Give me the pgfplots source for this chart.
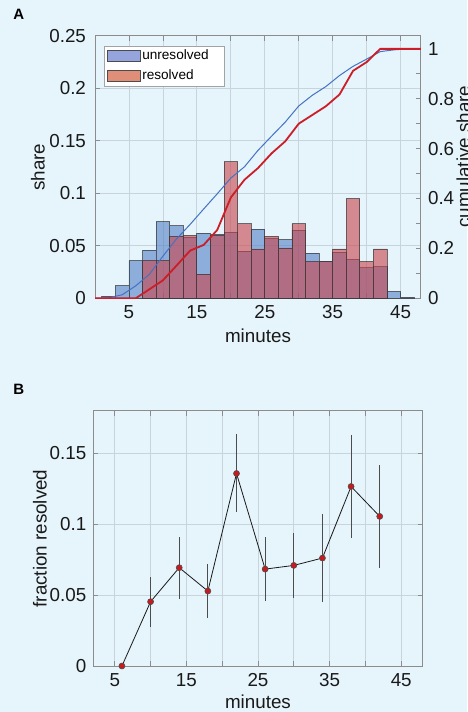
\documentclass[border=0pt]{standalone}
\usepackage{pgfplots}
\pgfplotsset{compat=1.18}
\usepackage{fontspec}
\setmainfont{Liberation Sans}

\definecolor{bg}{RGB}{230,244,251}
\definecolor{barblue}{RGB}{82,127,198}
\definecolor{barred}{RGB}{200,67,74}
\definecolor{legblue}{RGB}{149,164,220}
\definecolor{legred}{RGB}{223,142,120}
\definecolor{lineblue}{RGB}{68,114,196}
\definecolor{linered}{RGB}{204,30,40}
\definecolor{gridc}{RGB}{200,212,220}
\definecolor{framec}{RGB}{140,140,140}
\definecolor{dotred}{RGB}{200,25,30}

\pgfplotsset{
  matlab/.style={
    scale only axis,
    anchor=south west,
    axis line style={framec, line width=0.5pt},
    major tick style={framec, line width=0.4pt},
    minor tick style={framec, line width=0.4pt},
    major tick length=2.5pt,
    minor tick length=2.5pt,
    tick align=inside,
    grid=both,
    major grid style={gridc, line width=0.4pt},
    minor grid style={gridc, line width=0.4pt},
    tick label style={font=\fontsize{9.4}{10}\selectfont, text=black!90},
    label style={font=\fontsize{9.4}{10}\selectfont, text=black!90},
    /pgf/number format/assume math mode=true,
  },
}

\begin{document}
\begin{tikzpicture}
\path[use as bounding box, fill=bg] (0,0) rectangle (233.5pt,356pt);
\node[anchor=base west, inner sep=0pt, font=\bfseries\fontsize{7.5}{8}\selectfont] at (6.5pt,346pt) {A};
\node[anchor=base west, inner sep=0pt, font=\bfseries\fontsize{7.5}{8}\selectfont] at (6.5pt,158.5pt) {B};

% ---- panel A, left axis: histograms
\begin{axis}[matlab,
  at={(47.5pt,206.85pt)}, width=163pt, height=131.2pt,
  xmin=0, xmax=48, ymin=0, ymax=0.25,
  xtick={5,15,25,35,45}, minor xtick={10,20,30,40},
  ytick={0,0.05,0.1,0.15,0.2,0.25},
  yticklabels={0,0.05,0.1,0.15,0.2,0.25},
  ytick pos=left,
  yticklabel style={xshift=-1pt},
  xlabel={minutes}, ylabel={share},
  xlabel style={at={(axis description cs:0.5,-0.144)}, anchor=center},
  ylabel style={at={(axis description cs:-0.175,0.5)}, anchor=center},
  legend cell align=left,
  legend style={at={(0.029,0.963)}, anchor=north west, draw=framec!80,
    fill=white, font=\fontsize{6.8}{7.5}\selectfont, inner sep=1.2pt,
    row sep=2.4pt, nodes={inner sep=0.6pt}},
  legend image code/.code={\draw[#1] (0pt,-2.9pt) rectangle (16.5pt,2.9pt);},
]
\addplot[ybar interval, forget plot, fill=barblue, fill opacity=0.6,
  draw=black!80, draw opacity=0.7, line width=0.4pt] coordinates {
  (1,0.002) (3,0.012) (5,0.036) (7,0.046) (9,0.073) (11,0.069) (13,0.058)
  (15,0.062) (17,0.061) (19,0.063) (21,0.045) (23,0.066) (25,0.057)
  (27,0.056) (29,0.065) (31,0.043) (33,0.035) (35,0.044) (37,0.037)
  (39,0.029) (41,0.030) (43,0.0067) (45,0.001) (47,0)
};
\addplot[ybar interval, forget plot, fill=barred, fill opacity=0.6,
  draw=black!80, draw opacity=0.7, line width=0.4pt] coordinates {
  (7,0.036) (9,0.036) (11,0.059) (13,0.060) (15,0.023) (17,0.060)
  (19,0.130) (21,0.071) (23,0.047) (25,0.059) (27,0.048) (29,0.071)
  (31,0.035) (33,0.035) (35,0.047) (37,0.095) (39,0.035) (41,0.047) (43,0)
};
\addlegendimage{fill=legblue, draw=black!70, line width=0.4pt}
\addlegendentry{unresolved\hspace*{6pt}\mbox{}}
\addlegendimage{fill=legred, draw=black!70, line width=0.4pt}
\addlegendentry{resolved}
\end{axis}

% ---- panel A, right axis: cumulative shares
\begin{axis}[matlab,
  at={(47.5pt,206.85pt)}, width=163pt, height=131.2pt,
  xmin=0, xmax=48, ymin=0, ymax=1.052,
  axis x line=none, axis y line*=right, grid=none,
  ytick={0,0.2,0.4,0.6,0.8,1}, yticklabels={0,0.2,0.4,0.6,0.8,1},
  minor ytick={0.1,0.3,0.5,0.7,0.9},
  ylabel={cumulative share},
  ylabel style={at={(axis description cs:1.13,0.54)}, anchor=center},
]
\addplot[lineblue, line width=0.5pt] coordinates {
  (0,0) (2,0.002) (4,0.014) (6,0.05) (8,0.096) (10,0.169) (12,0.238)
  (14,0.296) (16,0.358) (18,0.419) (20,0.482) (22,0.527) (24,0.593)
  (26,0.65) (28,0.706) (30,0.771) (32,0.814) (34,0.849) (36,0.893)
  (38,0.93) (40,0.959) (42,0.989) (44,0.996) (46,1) (48,1)
};
\addplot[linered, line width=0.9pt] coordinates {
  (0,0) (2,0) (4,0) (6,0) (8,0.036) (10,0.072) (12,0.131) (14,0.191)
  (16,0.214) (18,0.274) (20,0.404) (22,0.475) (24,0.522) (26,0.581)
  (28,0.629) (30,0.70) (32,0.735) (34,0.77) (36,0.817) (38,0.912)
  (40,0.947) (42,1) (44,1) (46,1) (48,1)
};
\end{axis}

% ---- panel B: fraction resolved
\begin{axis}[matlab,
  at={(46.65pt,23pt)}, width=164.7pt, height=127.5pt,
  xmin=2, xmax=48, ymin=0, ymax=0.18,
  xtick={5,15,25,35,45}, minor xtick={10,20,30,40},
  ytick={0,0.05,0.1,0.15}, yticklabels={0,0.05,0.1,0.15},
  xlabel={minutes}, ylabel={fraction resolved},
  xlabel style={at={(axis description cs:0.5,-0.14)}, anchor=center},
  ylabel style={at={(axis description cs:-0.162,0.5)}, anchor=center},
]
\addplot[black!90, line width=0.4pt, mark=*, mark size=1.5pt,
  mark options={fill=dotred, draw=black!70, line width=0.3pt},
  error bars/.cd, y dir=both, y explicit, error mark=none,
  error bar style={black!70, line width=0.55pt}]
  table[x=x, y=y, y error plus=ep, y error minus=em] {
  x  y      ep     em
  6  0      0      0
  10 0.0454 0.0171 0.0177
  14 0.0694 0.0218 0.0221
  18 0.0529 0.0188 0.0188
  22 0.1359 0.0277 0.0270
  26 0.0684 0.0226 0.0223
  30 0.0710 0.0228 0.0230
  34 0.0762 0.0310 0.0308
  38 0.1267 0.0362 0.0362
  42 0.1056 0.0362 0.0365
};
\end{axis}
\end{tikzpicture}
\end{document}
